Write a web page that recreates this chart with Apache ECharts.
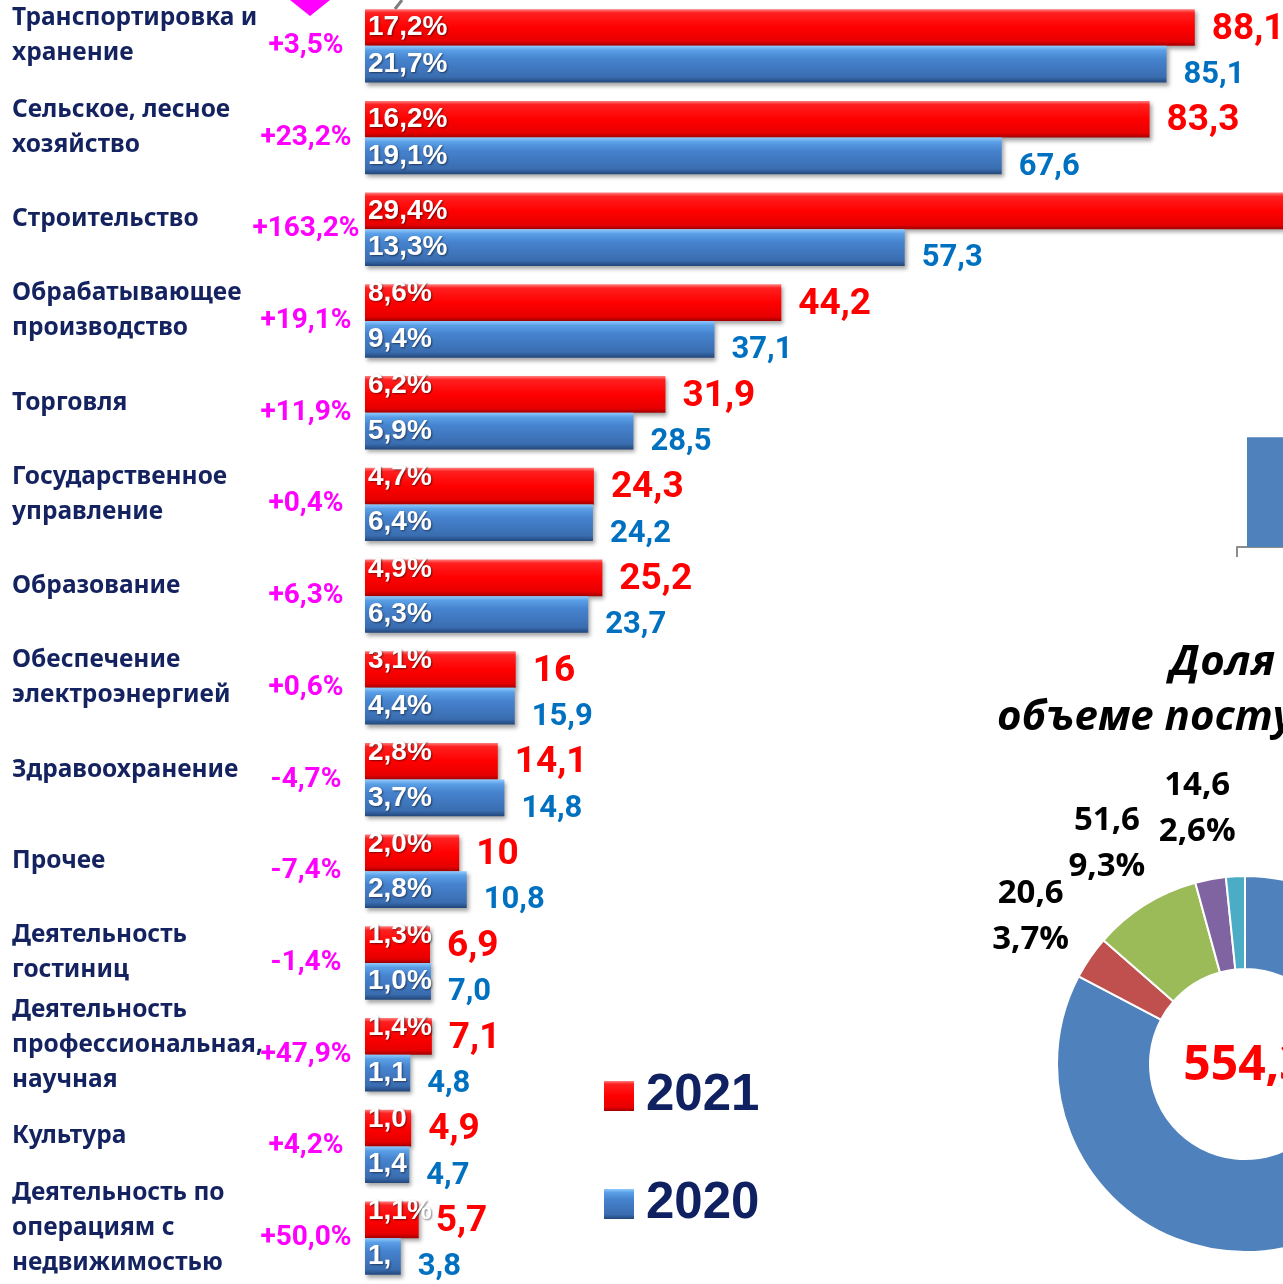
<!DOCTYPE html>
<html>
<head>
<meta charset="utf-8">
<script src="https://cdn.jsdelivr.net/npm/echarts@6/dist/echarts.min.js"></script>
<style>
  html, body { margin: 0; padding: 0; background: #fff; }
  #chart { width: 1283px; height: 1284px; }
</style>
</head>
<body>
<div id="chart"></div>
<script>
  // отрасли
  var categories = [
    'Транспортировка и\nхранение',
    'Сельское, лесное\nхозяйство',
    'Строительство',
    'Обрабатывающее\nпроизводство',
    'Торговля',
    'Государственное\nуправление',
    'Образование',
    'Обеспечение\nэлектроэнергией',
    'Здравоохранение',
    'Прочее',
    'Деятельность\nгостиниц',
    'Деятельность\nпрофессиональная,\nнаучная',
    'Культура',
    'Деятельность по\nоперациям с\nнедвижимостью'
  ];
  var growth = ['+3,5%', '+23,2%', '+163,2%', '+19,1%', '+11,9%', '+0,4%', '+6,3%',
                '+0,6%', '-4,7%', '-7,4%', '-1,4%', '+47,9%', '+4,2%', '+50,0%'];
  var values2021 = [88.1, 83.3, 150.8, 44.2, 31.9, 24.3, 25.2, 16, 14.1, 10, 6.9, 7.1, 4.9, 5.7];
  var values2020 = [85.1, 67.6, 57.3, 37.1, 28.5, 24.2, 23.7, 15.9, 14.8, 10.8, 7.0, 4.8, 4.7, 3.8];
  var shares2021 = ['17,2%', '16,2%', '29,4%', '8,6%', '6,2%', '4,7%', '4,9%',
                    '3,1%', '2,8%', '2,0%', '1,3%', '1,4%', '1,0%', '1,1%'];
  var shares2020 = ['21,7%', '19,1%', '13,3%', '9,4%', '5,9%', '6,4%', '6,3%',
                    '4,4%', '3,7%', '2,8%', '1,0%', '1,1%', '1,4%', '1,4%'];

  // правый блок (виден частично)
  var sideBarYears = ['2020', '2021'];
  var sideBarValues = [385.3, 554.3];
  var donutNames = ['Прочие', 'Группа 2', 'Группа 3', 'Группа 4', 'Группа 5'];
  var donutValues = [458.5, 20.6, 51.6, 14.6, 9.0];
  var donutShares = ['82,7%', '3,7%', '9,3%', '2,6%', '1,6%'];
  var donutTotal = '554,3';

  var donutColors = ['#4f81bd', '#c0504d', '#9bbb59', '#8064a2', '#4bacc6'];

  var redGrad = {
    type: 'linear', x: 0, y: 0, x2: 0, y2: 1,
    colorStops: [
      { offset: 0, color: '#ff8080' },
      { offset: 0.1, color: '#ff2020' },
      { offset: 0.5, color: '#ff0000' },
      { offset: 0.88, color: '#e60000' },
      { offset: 1, color: '#a00000' }
    ]
  };
  var blueGrad = {
    type: 'linear', x: 0, y: 0, x2: 0, y2: 1,
    colorStops: [
      { offset: 0, color: '#8fcaff' },
      { offset: 0.12, color: '#5a9fe6' },
      { offset: 0.35, color: '#4683cf' },
      { offset: 0.85, color: '#3a6db0' },
      { offset: 1, color: '#22467a' }
    ]
  };
  var barShadow = {
    shadowColor: 'rgba(0,0,0,0.35)',
    shadowBlur: 4,
    shadowOffsetX: 2,
    shadowOffsetY: 3
  };

  var shareLabel = {
    show: true,
    position: 'insideLeft',
    distance: 3,
    color: '#fff',
    fontSize: 28,
    fontWeight: 'bold',
    fontFamily: 'Liberation Sans',
    overflow: 'truncate',
    ellipsis: '',
    textShadowColor: 'rgba(0,0,0,0.5)',
    textShadowBlur: 2,
    textShadowOffsetX: 1,
    textShadowOffsetY: 1
  };

  var myChart = echarts.init(document.getElementById('chart'));

  // подписи долей обрезаются по концу столбца
  function shareData(values, lift) {
    return values.map(function (v, i) {
      var end = myChart.convertToPixel({ xAxisIndex: 0 }, v);
      var w = end ? end - 365 + 12 : 200;
      return { value: v, label: { width: w, offset: [0, (lift && i >= 3) ? -9 : 0] } };
    });
  }

  var option = {
    backgroundColor: '#fff',
    animation: false,
    legend: {
      data: ['2021', '2020'],
      orient: 'vertical',
      left: 604,
      top: 1070,
      padding: 0,
      itemWidth: 30,
      itemHeight: 30,
      itemGap: 56,
      icon: 'rect',
      textStyle: {
        fontSize: 51,
        fontWeight: 'bold',
        fontFamily: 'Liberation Sans',
        color: '#0f2161',
        lineHeight: 52,
        padding: [0, 0, 0, 7]
      }
    },
    grid: [
      { left: 365, top: 0, width: 1507, height: 1284, outerBoundsMode: 'none' },
      { left: 1237, top: 376, width: 200, height: 171, outerBoundsMode: 'none' }
    ],
    xAxis: [
      { type: 'value', gridIndex: 0, min: 0, max: 160, show: false },
      {
        type: 'category', gridIndex: 1, data: sideBarYears,
        axisLine: { lineStyle: { color: '#8c8c8c', width: 2 } },
        axisTick: { show: true, length: 10, lineStyle: { color: '#8c8c8c', width: 2 } },
        axisLabel: { show: false }
      }
    ],
    yAxis: [
      {
        type: 'category', gridIndex: 0, position: 'left', inverse: true, data: categories,
        axisLine: { show: false }, axisTick: { show: false },
        axisLabel: {
          interval: 0,
          showMinLabel: true,
          showMaxLabel: true,
          align: 'left',
          margin: 353,
          // пустая строка снизу чуть поднимает текст
          formatter: function (value) {
            return value.split('\n').map(function (s) { return '{t|' + s + '}'; }).join('\n') + '\n{s| }';
          },
          rich: {
            t: {
              fontSize: 24.5,
              fontWeight: 'bold',
              fontFamily: 'Noto Sans',
              color: '#14235f',
              lineHeight: 35,
              align: 'left'
            },
            s: { fontSize: 10, lineHeight: 20 }
          }
        }
      },
      {
        type: 'category', gridIndex: 0, position: 'left', offset: 0, inverse: true, data: growth,
        axisLine: { show: false }, axisTick: { show: false },
        axisLabel: {
          interval: 0,
          showMinLabel: true,
          showMaxLabel: true,
          align: 'center',
          margin: 59,
          fontSize: 28,
          fontWeight: 'bold',
          fontFamily: 'Roboto',
          color: '#ff00ff'
        }
      },
      { type: 'value', gridIndex: 1, min: 0, max: 600, show: false }
    ],
    series: [
      {
        name: '2021',
        type: 'bar',
        yAxisIndex: 0,
        barGap: '0%',
        barCategoryGap: '20%',
        data: values2021,
        itemStyle: Object.assign({ color: redGrad }, barShadow),
        label: Object.assign({}, shareLabel, {
          formatter: function (p) { return shares2021[p.dataIndex]; }
        })
      },
      {
        name: '2020',
        type: 'bar',
        yAxisIndex: 0,
        barGap: '0%',
        barCategoryGap: '20%',
        data: values2020,
        itemStyle: Object.assign({ color: blueGrad }, barShadow),
        label: Object.assign({}, shareLabel, {
          formatter: function (p) { return shares2020[p.dataIndex]; }
        })
      },
      // подписи значений (прозрачные копии на второй оси)
      {
        name: 'подписи 2021',
        type: 'bar',
        yAxisIndex: 1,
        barGap: '0%',
        barCategoryGap: '20%',
        silent: true,
        data: values2021,
        itemStyle: { color: 'rgba(0,0,0,0)' },
        label: {
          show: true,
          position: 'right',
          distance: 17,
          offset: [0, 2],
          color: '#ff0000',
          fontSize: 37,
          fontWeight: 'bold',
          fontFamily: 'Roboto',
          formatter: function (p) { return String(p.value).replace('.', ','); }
        }
      },
      {
        name: 'подписи 2020',
        type: 'bar',
        yAxisIndex: 1,
        barGap: '0%',
        barCategoryGap: '20%',
        silent: true,
        data: values2020,
        itemStyle: { color: 'rgba(0,0,0,0)' },
        label: {
          show: true,
          position: 'right',
          distance: 17,
          offset: [0, 11],
          color: '#0070c0',
          fontSize: 31,
          fontWeight: 'bold',
          fontFamily: 'Roboto',
          formatter: function (p) { return p.value.toFixed(1).replace('.', ','); }
        }
      },
      {
        name: 'итого',
        type: 'bar',
        xAxisIndex: 1,
        yAxisIndex: 2,
        barCategoryGap: '20%',
        data: sideBarValues,
        itemStyle: { color: '#4f81bd' }
      },
      {
        name: 'доля',
        type: 'pie',
        center: [1245, 1064],
        radius: [95, 188],
        startAngle: 90,
        clockwise: true,
        avoidLabelOverlap: false,
        data: donutValues.map(function (v, i) {
          var item = { name: donutNames[i], value: v, itemStyle: { color: donutColors[i] } };
          if (i === 4) item.label = { show: false };
          return item;
        }),
        itemStyle: { borderColor: '#fff', borderWidth: 2 },
        label: {
          show: true,
          position: 'outside',
          fontFamily: 'Open Sans',
          fontWeight: 'bold',
          fontSize: 33,
          lineHeight: 46,
          color: '#000',
          formatter: function (p) {
            return String(p.value).replace('.', ',') + '\n' + donutShares[p.dataIndex];
          }
        },
        labelLine: { show: true, length: 72, length2: 0, lineStyle: { opacity: 0 } },
        labelLayout: function (p) {
          var pts = p.labelLinePoints;
          if (!pts) return {};
          return { x: pts[1][0], y: pts[1][1], align: 'center', verticalAlign: 'middle' };
        }
      }
    ],
    graphic: [
      {
        type: 'polygon',
        shape: { points: [[290, 0], [330, 0], [310, 16]] },
        style: { fill: '#ff00ff' }
      },
      {
        type: 'line',
        shape: { x1: 402, y1: 0, x2: 395, y2: 9 },
        style: { stroke: '#7f7f7f', lineWidth: 3 }
      },
      {
        type: 'text',
        style: {
          x: 1170, y: 663,
          text: 'Доля отраслей в общем',
          font: 'italic bold 42px "Open Sans"',
          fill: '#000',
          textVerticalAlign: 'middle'
        }
      },
      {
        type: 'text',
        style: {
          x: 997, y: 718,
          text: 'объеме поступлений',
          font: 'italic bold 42px "Open Sans"',
          fill: '#000',
          textVerticalAlign: 'middle'
        }
      },
      {
        type: 'text',
        style: {
          x: 1245, y: 1066,
          text: donutTotal,
          font: 'bold 48px "Open Sans"',
          fill: '#ff0000',
          textAlign: 'center',
          textVerticalAlign: 'middle'
        }
      }
    ]
  };

  myChart.setOption(option);
  myChart.setOption({
    series: [
      { data: shareData(values2021, true) },
      { data: shareData(values2020, false) }
    ]
  });
</script>
</body>
</html>
